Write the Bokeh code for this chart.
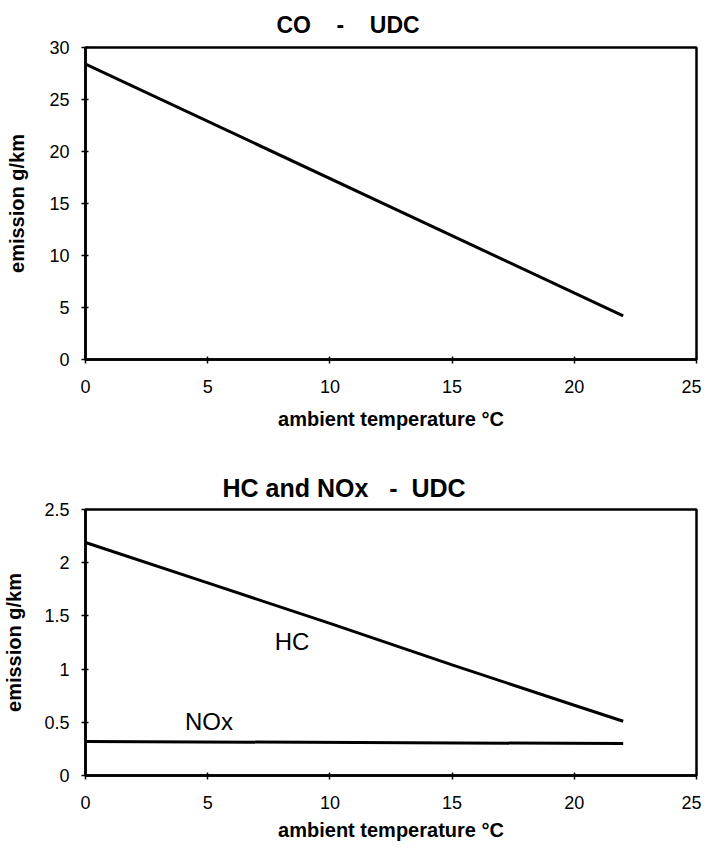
from bokeh.plotting import figure
from bokeh.layouts import column
from bokeh.models import Title, Range1d, FixedTicker
from bokeh.embed import file_html
from bokeh.resources import INLINE
from bokeh.core.properties import value

# ---- data ----
temp_co = [0, 22]
co_emission = [28.4, 4.2]

temp_hc = [0, 5, 10, 15, 20, 22]
hc_emission = [2.19, 1.81, 1.43, 1.04, 0.66, 0.51]

temp_nox = [0, 22]
nox_emission = [0.32, 0.30]

x_ticks = [0, 5, 10, 15, 20, 25]
co_ticks = [0, 5, 10, 15, 20, 25, 30]
hcnox_ticks = [0, 0.5, 1, 1.5, 2, 2.5]
hcnox_tick_labels = {0: "0", 0.5: "0.5", 1: "1", 1.5: "1.5", 2: "2", 2.5: "2.5"}

series_names = ["HC", "NOx"]
name_temp = [8.45, 5.05]
name_emission = [1.26, 0.51]

FONT = "Liberation Sans"
NB = "\u00a0"


def style(p, yticks, y_label_standoff, x_label_standoff):
    p.xgrid.grid_line_color = None
    p.ygrid.grid_line_color = None
    p.outline_line_color = "black"
    p.outline_line_width = 2.5
    p.outline_line_alpha = 1
    p.background_fill_color = "white"
    p.border_fill_color = "white"
    for ax in (p.xaxis[0], p.yaxis[0]):
        ax.axis_line_width = 2.5
        ax.axis_line_color = "black"
        ax.major_tick_line_color = "black"
        ax.major_tick_line_width = 1.5
        ax.major_tick_in = 3
        ax.major_tick_out = 4
        ax.minor_tick_line_color = None
        ax.major_label_text_font = FONT
        ax.major_label_text_font_size = "18px"
        ax.major_label_text_color = "black"
        ax.axis_label_text_font = FONT
        ax.axis_label_text_font_style = "bold"
        ax.axis_label_text_font_size = "20px"
        ax.axis_label_text_color = "black"
    p.xaxis[0].ticker = FixedTicker(ticks=x_ticks)
    p.yaxis[0].ticker = FixedTicker(ticks=yticks)
    p.xaxis[0].major_label_standoff = 16
    p.yaxis[0].major_label_standoff = 12
    p.xaxis[0].axis_label = "ambient temperature \u00b0C"
    p.yaxis[0].axis_label = "emission g/km"
    p.xaxis[0].axis_label_standoff = x_label_standoff
    p.yaxis[0].axis_label_standoff = y_label_standoff


# ---- top chart: CO ----
p1 = figure(width=701, height=440, x_range=Range1d(0, 25), y_range=Range1d(0, 30),
            output_backend="svg", toolbar_location=None,
            min_border_left=79, min_border_right=5, min_border_top=45, min_border_bottom=81)
p1.title = Title(text="CO" + NB * 4 + "-" + NB * 4 + "UDC", align="left", offset=191,
                 standoff=19, text_font=FONT, text_font_style="bold",
                 text_font_size="23px", text_color="black")
style(p1, co_ticks, 18, 12)
p1.line(temp_co, co_emission, line_width=3, line_color="black")

# ---- bottom chart: HC and NOx ----
p2 = figure(width=701, height=407, x_range=Range1d(0, 25), y_range=Range1d(0, 2.5),
            output_backend="svg", toolbar_location=None,
            min_border_left=82, min_border_right=1, min_border_top=69, min_border_bottom=72)
p2.title = Title(text="HC and NOx" + NB * 3 + "-" + NB * 2 + "UDC", align="left", offset=137,
                 standoff=15, text_font=FONT, text_font_style="bold",
                 text_font_size="25px", text_color="black")
style(p2, hcnox_ticks, 16, 7)
p2.yaxis[0].major_label_overrides = hcnox_tick_labels
p2.line(temp_hc, hc_emission, line_width=3, line_color="black")
p2.line(temp_nox, nox_emission, line_width=3, line_color="black")
p2.text(x=name_temp, y=name_emission, text=series_names,
        text_font=value(FONT), text_font_size="24px", text_color="black",
        text_align="center", text_baseline="middle")

layout = column(p1, p2, spacing=0)
open("out.html", "w").write(file_html(layout, INLINE))
